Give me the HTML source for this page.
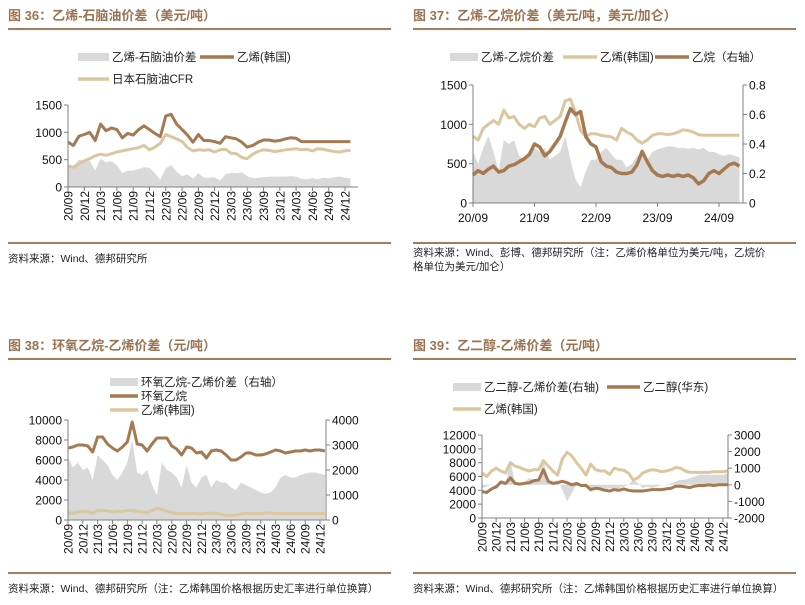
<!DOCTYPE html>
<html><head><meta charset="utf-8">
<style>
html,body{margin:0;padding:0;background:#fff;}
svg{display:block;font-family:"Liberation Sans","Noto Sans CJK SC",sans-serif;}
.title{font-size:13px;font-weight:bold;fill:#9a7352;}
.src{font-size:10.5px;fill:#222;}
.leg{font-size:11.5px;fill:#222;}
.tick{font-size:12px;fill:#111;}
</style></head>
<body>
<svg id="root" width="805" height="605" viewBox="0 0 805 605">
<g>
<text class="title" x="8" y="20">图 36：乙烯-石脑油价差（美元/吨）</text>
<line x1="8" y1="29" x2="391" y2="29" stroke="#a67c58" stroke-width="2"/>
<line x1="8" y1="243" x2="391" y2="243" stroke="#a67c58" stroke-width="2"/>
<text class="src" x="8" y="262">资料来源：Wind、德邦研究所</text>
</g>
<g>
<text class="title" x="413" y="20">图 37：乙烯-乙烷价差（美元/吨，美元/加仑）</text>
<line x1="413" y1="29" x2="796" y2="29" stroke="#a67c58" stroke-width="2"/>
<line x1="413" y1="243" x2="796" y2="243" stroke="#a67c58" stroke-width="2"/>
<text class="src" x="413" y="256">资料来源：Wind、彭博、德邦研究所（注：乙烯价格单位为美元/吨，乙烷价</text>
<text class="src" x="413" y="270">格单位为美元/加仑）</text>
</g>
<g>
<text class="title" x="8" y="350">图 38：环氧乙烷-乙烯价差（元/吨）</text>
<line x1="8" y1="359" x2="391" y2="359" stroke="#a67c58" stroke-width="2"/>
<line x1="8" y1="573" x2="391" y2="573" stroke="#a67c58" stroke-width="2"/>
<text class="src" x="8" y="592">资料来源：Wind、德邦研究所（注：乙烯韩国价格根据历史汇率进行单位换算）</text>
</g>
<g>
<text class="title" x="413" y="350">图 39：乙二醇-乙烯价差（元/吨）</text>
<line x1="413" y1="359" x2="796" y2="359" stroke="#a67c58" stroke-width="2"/>
<line x1="413" y1="573" x2="796" y2="573" stroke="#a67c58" stroke-width="2"/>
<text class="src" x="413" y="592">资料来源：Wind、德邦研究所（注：乙烯韩国价格根据历史汇率进行单位换算）</text>
</g>
</svg>
<script>
// Monthly data from 2020/09 to 2025/01
const c36Ethylene = [820,760,930,960,1000,850,1150,1030,1080,1050,900,980,950,1050,1120,1050,980,920,1300,1330,1150,1050,950,820,960,850,850,830,800,920,900,880,820,730,760,820,860,860,840,850,880,900,890,830,830,830,830,830,830,830,830,830,830];
const c36Naphtha = [380,360,420,480,520,570,600,580,610,640,660,680,700,720,760,680,730,800,960,920,880,830,720,660,680,670,680,640,680,690,620,610,540,520,600,650,680,670,650,660,680,690,700,680,690,660,700,690,670,650,640,660,670];
const c36Spread = [420,380,500,480,480,300,520,450,470,400,250,300,300,330,360,350,250,130,340,400,280,200,230,150,250,170,170,180,120,230,260,250,270,200,160,170,180,190,190,190,190,200,190,150,140,160,140,170,160,180,190,170,160];
const c36Ticks = [0,500,1000,1500];

const c37Ethylene = [850,800,950,1000,1050,1000,1180,1080,1100,1000,950,1000,970,1080,1100,1000,1050,1100,1300,1320,1150,920,850,880,880,860,850,840,800,950,900,870,800,760,800,860,880,880,870,880,900,930,920,900,870,860,860,860,860,860,860,860,860];
const c37Ethane = [0.19,0.22,0.20,0.23,0.25,0.21,0.22,0.25,0.26,0.28,0.30,0.33,0.40,0.38,0.32,0.35,0.40,0.45,0.55,0.64,0.60,0.62,0.45,0.40,0.38,0.28,0.25,0.24,0.21,0.20,0.20,0.21,0.26,0.35,0.28,0.22,0.19,0.18,0.19,0.18,0.19,0.18,0.19,0.17,0.13,0.15,0.20,0.22,0.20,0.23,0.26,0.27,0.25];
const c37Spread = [650,500,700,850,650,400,800,750,800,600,550,650,700,650,700,550,600,650,850,550,300,200,400,550,550,650,700,620,550,550,450,500,600,600,550,650,680,700,720,720,700,700,690,700,680,700,650,650,620,600,620,600,580];
const c37TicksL = [0,500,1000,1500];
const c37TicksR = ["0","0.2","0.4","0.6","0.8"];
const c37Labels = ["20/09","21/09","22/09","23/09","24/09"];

const c38EO = [7200,7300,7500,7500,7400,6800,8300,8300,7600,7200,6900,7300,7800,9800,7600,7500,6900,7600,8200,8200,8200,7400,7100,6500,7300,7200,6700,6800,6200,6900,7000,6900,6500,6000,6000,6300,6700,6700,6500,6500,6600,6800,7000,6900,6700,6800,6900,6900,7000,6900,7000,7000,6900];
const c38Ethylene = [700,700,800,850,800,700,950,950,900,800,850,850,950,950,850,800,750,950,1150,1050,900,750,650,650,650,650,650,600,650,700,650,600,450,450,500,600,650,650,650,650,700,700,650,650,650,650,650,650,650,650,650,650,650];
const c38Spread = [2500,2100,2300,2000,2100,1600,2600,2400,2200,1800,1600,1900,2300,3200,1900,1800,2000,1400,1000,2300,2000,1900,1700,1300,2200,1500,1300,1700,1800,1300,1600,1500,1500,1300,1200,1500,1400,1300,1200,1100,1050,1100,1300,1700,1800,1700,1700,1800,1850,1900,1900,1850,1800];
const c38TicksL = [0,2000,4000,6000,8000,10000];
const c38TicksR = [0,1000,2000,3000,4000];

const c39MEG = [3800,3700,4200,4500,5200,5000,5800,5000,4900,5000,5100,5400,5500,7000,5300,5000,5100,5300,5100,4800,5000,4700,4700,4100,4300,4200,4000,3900,4100,4000,4200,4000,3900,3900,3900,4000,4100,4100,4100,4200,4300,4600,4600,4500,4400,4600,4700,4700,4800,4700,4800,4800,4800];
const c39Ethylene = [6500,6000,6800,7200,6800,6500,8000,7500,7300,7000,6800,7000,7000,8300,7500,6800,6200,8500,9500,9000,8000,7200,6200,7800,7000,6800,6800,6300,7200,7000,6900,6500,5500,5800,6500,6800,7000,6900,6700,6800,7000,7300,7200,6800,6600,6600,6600,6600,6600,6700,6700,6700,6800];
const c39Spread = [-200,-100,0,-100,200,0,1500,0,0,200,400,300,300,1500,200,100,300,-300,-1000,-500,0,0,100,-200,-300,-200,-300,-200,-300,-200,-100,0,300,100,-200,-100,-200,-100,0,0,100,200,300,300,400,500,600,600,600,600,600,600,700];
const c39TicksL = [0,2000,4000,6000,8000,10000,12000];
const c39TicksR = [-2000,-1000,0,1000,2000,3000];

const quarterLabels = ["20/09","20/12","21/03","21/06","21/09","21/12","22/03","22/06","22/09","22/12","23/03","23/06","23/09","23/12","24/03","24/06","24/09","24/12"];

const NS = "http://www.w3.org/2000/svg";
const root = document.getElementById("root");
const BROWN = "#a57a52", TAN = "#dbc79f", GRAY = "#d9d9d9";

function mk(tag, attrs, parent) {
  const e = document.createElementNS(NS, tag);
  for (const k in attrs) e.setAttribute(k, attrs[k]);
  (parent || root).appendChild(e);
  return e;
}
function txt(str, attrs, parent, cls) {
  const t = mk("text", attrs, parent);
  t.setAttribute("class", cls || "tick");
  t.textContent = str;
  return t;
}
function scale(d0, d1, r0, r1) { return v => r0 + (v - d0) / (d1 - d0) * (r1 - r0); }

function linePath(arr, xs, ys) {
  return arr.map((v, i) => (i ? "L" : "M") + xs(i).toFixed(1) + "," + ys(v).toFixed(1)).join("");
}
function areaPath(arr, xs, ys, base) {
  let d = "M" + xs(0).toFixed(1) + "," + ys(base).toFixed(1);
  arr.forEach((v, i) => { d += "L" + xs(i).toFixed(1) + "," + ys(v).toFixed(1); });
  d += "L" + xs(arr.length - 1).toFixed(1) + "," + ys(base).toFixed(1) + "Z";
  return d;
}
function legendEntry(g, x, y, w, color, h, label, name) {
  const sw = mk("rect", {x: x, y: y - h / 2, width: w, height: h, fill: color}, g);
  
  
  const t = txt(label, {x: x + w + 3, y: y + 4}, g, "leg");
  
  
}
function yAxis(g, x, ys, ticks, side, labels) {
  mk("line", {x1: x, y1: ys(ticks[0]), x2: x, y2: ys(ticks[ticks.length - 1]), stroke: "#808080", "stroke-width": 1}, g);
  ticks.forEach((v, i) => {
    const y = ys(v);
    mk("line", {x1: side === "L" ? x - 4 : x, y1: y, x2: side === "L" ? x : x + 4, y2: y, stroke: "#808080"}, g);
    const t = txt(labels ? labels[i] : String(v), {x: side === "L" ? x - 6 : x + 6, y: y + 4.5, "text-anchor": side === "L" ? "end" : "start"}, g);
    
    
  });
}
function xAxisRot(g, x0, x1, y, xs) {
  mk("line", {x1: x0, y1: y, x2: x1, y2: y, stroke: "#808080"}, g);
  quarterLabels.forEach((l, i) => {
    const x = xs(i * 3);
    mk("line", {x1: x, y1: y, x2: x, y2: y + 4, stroke: "#808080"}, g);
    const t = txt(l, {x: 0, y: 0, "text-anchor": "end", transform: "translate(" + (x + 4.5) + "," + (y + 4) + ") rotate(-90)"}, g);
    
    
  });
}
function series(g, d, color, w, name) {
  const p = mk("path", {d: d, fill: w ? "none" : color, stroke: w ? color : "none", "stroke-width": w || 0, "stroke-linejoin": "round"}, g);
  
  
}

// ---- Chart 36 ----
(function () {
  const g = mk("g", {});
  
  
  const xs = scale(0, 51, 68, 345), ys = scale(0, 1500, 187, 105);
  legendEntry(g, 78, 57, 31, GRAY, 8, "乙烯-石脑油价差", "legend-spread");
  legendEntry(g, 200, 57, 34, BROWN, 3.5, "乙烯(韩国)", "legend-ethylene-korea");
  legendEntry(g, 78, 79, 31, TAN, 3.5, "日本石脑油CFR", "legend-naphtha-cfr");
  series(g, areaPath(c36Spread, xs, ys, 0), GRAY, 0, "spread-area");
  series(g, linePath(c36Naphtha, xs, ys), TAN, 3, "naphtha-line");
  series(g, linePath(c36Ethylene, xs, ys), BROWN, 3, "ethylene-line");
  yAxis(g, 68, ys, c36Ticks, "L");
  xAxisRot(g, 68, 358, 187, xs);
})();

// ---- Chart 37 ----
(function () {
  const g = mk("g", {});
  
  
  const xs = scale(0, 48, 473, 719), ys = scale(0, 1500, 203, 85), yr = scale(0, 0.8, 203, 85);
  legendEntry(g, 450, 57, 28, GRAY, 8, "乙烯-乙烷价差", "legend-spread");
  legendEntry(g, 563, 57, 34, TAN, 3.5, "乙烯(韩国)", "legend-ethylene-korea");
  legendEntry(g, 655, 57, 34, BROWN, 3.5, "乙烷（右轴）", "legend-ethane");
  series(g, areaPath(c37Spread, xs, ys, 0), GRAY, 0, "spread-area");
  series(g, linePath(c37Ethylene, xs, ys), TAN, 3, "ethylene-line");
  series(g, linePath(c37Ethane, xs, yr), BROWN, 3.5, "ethane-line");
  yAxis(g, 473, ys, c37TicksL, "L");
  yAxis(g, 743, yr, [0, 0.2, 0.4, 0.6, 0.8], "R", c37TicksR);
  mk("line", {x1: 473, y1: 203, x2: 743, y2: 203, stroke: "#808080"}, g);
  c37Labels.forEach((l, i) => {
    const x = xs(i * 12);
    mk("line", {x1: x, y1: 203, x2: x, y2: 207, stroke: "#808080"}, g);
    const t = txt(l, {x: x, y: 222, "text-anchor": "middle"}, g);
    
    
  });
})();

// ---- Chart 38 ----
(function () {
  const g = mk("g", {});
  
  
  const xs = scale(0, 51, 68, 320), ys = scale(0, 10000, 520, 420), yr = scale(0, 4000, 520, 420);
  legendEntry(g, 110, 382, 28, GRAY, 8, "环氧乙烷-乙烯价差（右轴）", "legend-spread");
  legendEntry(g, 110, 396, 28, BROWN, 3.5, "环氧乙烷", "legend-eo");
  legendEntry(g, 110, 410, 28, TAN, 3.5, "乙烯(韩国)", "legend-ethylene-korea");
  series(g, areaPath(c38Spread, xs, yr, 0), GRAY, 0, "spread-area");
  series(g, linePath(c38Ethylene, xs, ys), TAN, 3, "ethylene-line");
  series(g, linePath(c38EO, xs, ys), BROWN, 3, "eo-line");
  yAxis(g, 68, ys, c38TicksL, "L");
  yAxis(g, 326, yr, c38TicksR, "R");
  xAxisRot(g, 68, 326, 520, xs);
})();

// ---- Chart 39 ----
(function () {
  const g = mk("g", {});
  
  
  const xs = scale(0, 51, 482, 723), ys = scale(0, 12000, 518, 435), yr = scale(-2000, 3000, 518, 435);
  legendEntry(g, 453, 387, 28, GRAY, 8, "乙二醇-乙烯价差(右轴)", "legend-spread");
  legendEntry(g, 607, 387, 33, BROWN, 3.5, "乙二醇(华东)", "legend-meg");
  legendEntry(g, 453, 409, 28, TAN, 3.5, "乙烯(韩国)", "legend-ethylene-korea");
  series(g, areaPath(c39Spread, xs, yr, 0), GRAY, 0, "spread-area");
  series(g, linePath(c39Ethylene, xs, ys), TAN, 3, "ethylene-line");
  series(g, linePath(c39MEG, xs, ys), BROWN, 3, "meg-line");
  yAxis(g, 482, ys, c39TicksL, "L");
  yAxis(g, 728, yr, c39TicksR, "R");
  xAxisRot(g, 482, 728, 518, xs);
})();
</script>
</body></html>
